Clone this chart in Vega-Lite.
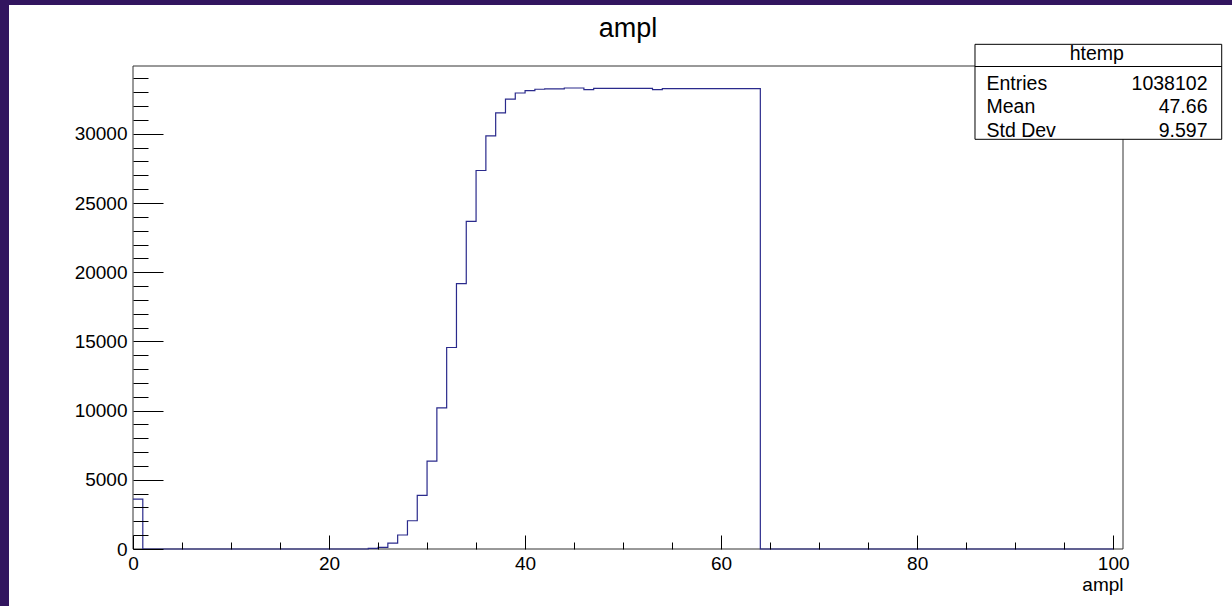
{
  "$schema": "https://vega.github.io/schema/vega-lite/v6.json",
  "width": 990,
  "height": 483,
  "autosize": {"type": "none"},
  "padding": {"left": 133, "top": 66, "right": 109, "bottom": 57},
  "background": "#32155f",
  "config": {"font": "Liberation Sans", "view": {"stroke": null}},
  "title": {"text": "ampl", "fontSize": 27, "fontWeight": "normal", "color": "#000", "anchor": "middle", "frame": "group", "baseline": "alphabetic", "offset": -59, "zindex": 1},
  "datasets": {
    "hist": [
      {"ampl":0,"entries":3600},{"ampl":1,"entries":0},{"ampl":2,"entries":0},{"ampl":3,"entries":0},{"ampl":4,"entries":0},
      {"ampl":5,"entries":0},{"ampl":6,"entries":0},{"ampl":7,"entries":0},{"ampl":8,"entries":0},{"ampl":9,"entries":0},
      {"ampl":10,"entries":0},{"ampl":11,"entries":0},{"ampl":12,"entries":0},{"ampl":13,"entries":0},{"ampl":14,"entries":0},
      {"ampl":15,"entries":0},{"ampl":16,"entries":0},{"ampl":17,"entries":0},{"ampl":18,"entries":0},{"ampl":19,"entries":0},
      {"ampl":20,"entries":0},{"ampl":21,"entries":0},{"ampl":22,"entries":0},{"ampl":23,"entries":0},{"ampl":24,"entries":50},
      {"ampl":25,"entries":120},{"ampl":26,"entries":430},{"ampl":27,"entries":1010},{"ampl":28,"entries":2040},{"ampl":29,"entries":3870},
      {"ampl":30,"entries":6350},{"ampl":31,"entries":10200},{"ampl":32,"entries":14560},{"ampl":33,"entries":19170},{"ampl":34,"entries":23670},
      {"ampl":35,"entries":27350},{"ampl":36,"entries":29850},{"ampl":37,"entries":31510},{"ampl":38,"entries":32500},{"ampl":39,"entries":32950},
      {"ampl":40,"entries":33120},{"ampl":41,"entries":33220},{"ampl":42,"entries":33240},{"ampl":43,"entries":33240},{"ampl":44,"entries":33310},
      {"ampl":45,"entries":33310},{"ampl":46,"entries":33200},{"ampl":47,"entries":33290},{"ampl":48,"entries":33290},{"ampl":49,"entries":33290},
      {"ampl":50,"entries":33290},{"ampl":51,"entries":33290},{"ampl":52,"entries":33290},{"ampl":53,"entries":33190},{"ampl":54,"entries":33270},
      {"ampl":55,"entries":33270},{"ampl":56,"entries":33270},{"ampl":57,"entries":33270},{"ampl":58,"entries":33270},{"ampl":59,"entries":33270},
      {"ampl":60,"entries":33270},{"ampl":61,"entries":33270},{"ampl":62,"entries":33270},{"ampl":63,"entries":33270},{"ampl":64,"entries":0},
      {"ampl":65,"entries":0},{"ampl":66,"entries":0},{"ampl":67,"entries":0},{"ampl":68,"entries":0},{"ampl":69,"entries":0},
      {"ampl":70,"entries":0},{"ampl":71,"entries":0},{"ampl":72,"entries":0},{"ampl":73,"entries":0},{"ampl":74,"entries":0},
      {"ampl":75,"entries":0},{"ampl":76,"entries":0},{"ampl":77,"entries":0},{"ampl":78,"entries":0},{"ampl":79,"entries":0},
      {"ampl":80,"entries":0},{"ampl":81,"entries":0},{"ampl":82,"entries":0},{"ampl":83,"entries":0},{"ampl":84,"entries":0},
      {"ampl":85,"entries":0},{"ampl":86,"entries":0},{"ampl":87,"entries":0},{"ampl":88,"entries":0},{"ampl":89,"entries":0},
      {"ampl":90,"entries":0},{"ampl":91,"entries":0},{"ampl":92,"entries":0},{"ampl":93,"entries":0},{"ampl":94,"entries":0},
      {"ampl":95,"entries":0},{"ampl":96,"entries":0},{"ampl":97,"entries":0},{"ampl":98,"entries":0},{"ampl":99,"entries":0},
      {"ampl":100,"entries":0}
    ]
  },
  "layer": [
    {
      "data": {"values": [{}]},
      "mark": {"type": "rect", "fill": "#ffffff", "clip": false},
      "encoding": {
        "x": {"datum": -12.65, "type": "quantitative", "scale": {"domain": [0, 101], "nice": false, "zero": false}, "axis": null},
        "x2": {"datum": 125},
        "y": {"datum": -10000, "type": "quantitative", "scale": {"domain": [0, 34900], "nice": false}, "axis": null},
        "y2": {"datum": 39306}
      }
    },
    {
      "data": {"values": [{}]},
      "mark": {"type": "rect", "fill": null, "stroke": "#333333", "strokeWidth": 1, "clip": false},
      "encoding": {
        "x": {"datum": 0, "type": "quantitative", "scale": {"domain": [0, 101], "nice": false, "zero": false}, "axis": null},
        "x2": {"datum": 101},
        "y": {"datum": 0, "type": "quantitative", "scale": {"domain": [0, 34900], "nice": false}, "axis": null},
        "y2": {"datum": 34900}
      }
    },
    {
      "data": {"name": "hist"},
      "mark": {"type": "line", "interpolate": "step-after", "color": "#2a2a8c", "strokeWidth": 1.2, "clip": false},
      "encoding": {
        "x": {"field": "ampl", "type": "quantitative", "scale": {"domain": [0, 101], "nice": false, "zero": false},
          "axis": {"orient": "bottom", "values": [0, 20, 40, 60, 80, 100], "format": "d", "labelFontSize": 19, "labelColor": "#000", "labelPadding": 5, "labelFlush": false, "labelOverlap": false, "ticks": false, "tickSize": 0, "domain": false, "grid": false,
            "title": "ampl", "titleFontSize": 19, "titleFontWeight": "normal", "titleColor": "#000", "titleAnchor": "end", "titleAlign": "right", "titleBaseline": "top", "titleX": 990, "titleY": 26, "zindex": 1}},
        "y": {"field": "entries", "type": "quantitative", "scale": {"domain": [0, 34900], "nice": false},
          "axis": {"orient": "left", "values": [0, 5000, 10000, 15000, 20000, 25000, 30000], "format": "d", "labelFontSize": 19, "labelColor": "#000", "labelPadding": 6, "labelFlush": false, "labelOverlap": false, "ticks": false, "tickSize": 0, "domain": false, "grid": false, "title": null, "zindex": 1}}
      }
    },
    {
      "data": {"values": [{}]},
      "mark": {"type": "rect", "fill": "#ffffff", "stroke": "#000000", "strokeWidth": 1, "clip": false},
      "encoding": {
        "x": {"datum": 85.9, "type": "quantitative", "scale": {"domain": [0, 101], "nice": false, "zero": false},
          "axis": {"orient": "bottom", "values": [0, 20, 40, 60, 80, 100], "labels": false, "ticks": true, "tickSize": -14, "tickColor": "#000", "tickWidth": 1, "domain": false, "grid": false, "title": null, "zindex": 1}},
        "x2": {"datum": 111.07},
        "y": {"datum": 29603, "type": "quantitative", "scale": {"domain": [0, 34900], "nice": false},
          "axis": {"orient": "left", "values": [0, 5000, 10000, 15000, 20000, 25000, 30000], "labels": false, "ticks": true, "tickSize": -30, "tickColor": "#000", "tickWidth": 1, "domain": false, "grid": false, "title": null, "zindex": 1}},
        "y2": {"datum": 36467}
      }
    },
    {
      "data": {"values": [{}]},
      "mark": {"type": "rule", "color": "#000000", "strokeWidth": 1, "clip": false},
      "encoding": {
        "x": {"datum": 85.9, "type": "quantitative", "scale": {"domain": [0, 101], "nice": false, "zero": false},
          "axis": {"orient": "bottom", "values": [5, 10, 15, 25, 30, 35, 45, 50, 55, 65, 70, 75, 85, 90, 95], "labels": false, "ticks": true, "tickSize": -7, "tickColor": "#000", "tickWidth": 1, "domain": false, "grid": false, "title": null, "zindex": 1}},
        "x2": {"datum": 111.07},
        "y": {"datum": 34863, "type": "quantitative", "scale": {"domain": [0, 34900], "nice": false},
          "axis": {"orient": "left", "values": [1000, 2000, 3000, 4000, 6000, 7000, 8000, 9000, 11000, 12000, 13000, 14000, 16000, 17000, 18000, 19000, 21000, 22000, 23000, 24000, 26000, 27000, 28000, 29000, 31000, 32000, 33000, 34000], "labels": false, "ticks": true, "tickSize": -15, "tickColor": "#000", "tickWidth": 1, "domain": false, "grid": false, "title": null, "zindex": 1}}
      }
    },
    {
      "data": {"values": [{}]},
      "mark": {"type": "text", "text": "htemp", "align": "center", "baseline": "alphabetic", "fontSize": 19.5, "color": "#000", "clip": false},
      "encoding": {
        "x": {"datum": 98.32, "type": "quantitative", "scale": {"domain": [0, 101], "nice": false, "zero": false}, "axis": null},
        "y": {"datum": 35332, "type": "quantitative", "scale": {"domain": [0, 34900], "nice": false}, "axis": null}
      }
    },
    {
      "data": {"values": [{}]},
      "mark": {"type": "text", "text": "Entries", "align": "left", "baseline": "alphabetic", "fontSize": 19.5, "color": "#000", "clip": false},
      "encoding": {
        "x": {"datum": 87.07, "type": "quantitative", "scale": {"domain": [0, 101], "nice": false, "zero": false}, "axis": null},
        "y": {"datum": 33164, "type": "quantitative", "scale": {"domain": [0, 34900], "nice": false}, "axis": null}
      }
    },
    {
      "data": {"values": [{}]},
      "mark": {"type": "text", "text": "1038102", "align": "right", "baseline": "alphabetic", "fontSize": 19.5, "color": "#000", "clip": false},
      "encoding": {
        "x": {"datum": 109.62, "type": "quantitative", "scale": {"domain": [0, 101], "nice": false, "zero": false}, "axis": null},
        "y": {"datum": 33164, "type": "quantitative", "scale": {"domain": [0, 34900], "nice": false}, "axis": null}
      }
    },
    {
      "data": {"values": [{}]},
      "mark": {"type": "text", "text": "Mean", "align": "left", "baseline": "alphabetic", "fontSize": 19.5, "color": "#000", "clip": false},
      "encoding": {
        "x": {"datum": 87.07, "type": "quantitative", "scale": {"domain": [0, 101], "nice": false, "zero": false}, "axis": null},
        "y": {"datum": 31481, "type": "quantitative", "scale": {"domain": [0, 34900], "nice": false}, "axis": null}
      }
    },
    {
      "data": {"values": [{}]},
      "mark": {"type": "text", "text": "47.66", "align": "right", "baseline": "alphabetic", "fontSize": 19.5, "color": "#000", "clip": false},
      "encoding": {
        "x": {"datum": 109.62, "type": "quantitative", "scale": {"domain": [0, 101], "nice": false, "zero": false}, "axis": null},
        "y": {"datum": 31481, "type": "quantitative", "scale": {"domain": [0, 34900], "nice": false}, "axis": null}
      }
    },
    {
      "data": {"values": [{}]},
      "mark": {"type": "text", "text": "Std Dev", "align": "left", "baseline": "alphabetic", "fontSize": 19.5, "color": "#000", "clip": false},
      "encoding": {
        "x": {"datum": 87.07, "type": "quantitative", "scale": {"domain": [0, 101], "nice": false, "zero": false}, "axis": null},
        "y": {"datum": 29791, "type": "quantitative", "scale": {"domain": [0, 34900], "nice": false}, "axis": null}
      }
    },
    {
      "data": {"values": [{}]},
      "mark": {"type": "text", "text": "9.597", "align": "right", "baseline": "alphabetic", "fontSize": 19.5, "color": "#000", "clip": false},
      "encoding": {
        "x": {"datum": 109.62, "type": "quantitative", "scale": {"domain": [0, 101], "nice": false, "zero": false}, "axis": null},
        "y": {"datum": 29791, "type": "quantitative", "scale": {"domain": [0, 34900], "nice": false}, "axis": null}
      }
    }
  ],
  "resolve": {"axis": {"x": "independent", "y": "independent"}}
}
